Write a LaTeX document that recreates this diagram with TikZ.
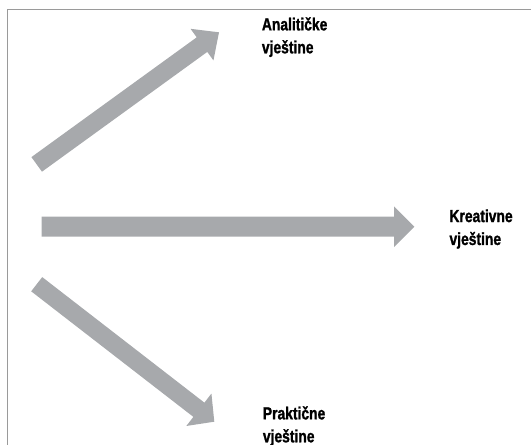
\documentclass[tikz,border=0pt]{standalone}
\usepackage{fontspec}
\newfontfamily\lblfont{Liberation Sans Bold}[FakeStretch=0.79, FakeBold=1.2]
\usetikzlibrary{calc}
\definecolor{arrowgray}{HTML}{A7A9AC}
\definecolor{framegray}{HTML}{9A9A9A}
\tikzset{
  lbl/.style={anchor=base west, inner sep=0pt, align=left, font=\lblfont\fontsize{17.6}{23}\selectfont},
  framel/.style={draw=framegray, line width=1.5bp},
  blockfill/.style={fill=arrowgray}
}
% tail, tip, half shaft, half head, head length, name
\newcommand\blkarrow[6]{%
  \coordinate (#6b) at ($(#2)!#5!(#1)$);
  \fill[blockfill] ($(#1)!#3!90:(#2)$) -- ($(#6b)!#3!90:(#2)$) -- ($(#6b)!#4!90:(#2)$) -- (#2)
    -- ($(#6b)!#4!-90:(#2)$) -- ($(#6b)!#3!-90:(#2)$) -- ($(#1)!#3!-90:(#2)$) -- cycle;
}
\begin{document}
\begin{tikzpicture}[x=1bp,y=-1bp]
\useasboundingbox (0,0) rectangle (531,445);
\draw[framel] (531,9.3) -- (7.3,9.3) -- (7.3,445);
% labels (anchor = baseline of second line)
\node[lbl] (an) at (261.7,53.3) {Analitičke\\vještine};
\node[lbl] (kr) at (449.3,245) {Kreativne\\vještine};
\node[lbl] (pr) at (262.7,442.3) {Praktične\\vještine};
% arrow ends
\coordinate (t1) at (36.7,164.4);
\coordinate (p1) at (219,32.3);
\coordinate (t2) at (41.7,226.7);
\coordinate (p2) at (414.3,226.7);
\coordinate (t3) at (36.7,284.2);
\coordinate (p3) at (214.3,421.7);
\blkarrow{t1}{p1}{9bp}{19.5bp}{21bp}{a1}
\blkarrow{t2}{p2}{10bp}{20.3bp}{20.3bp}{a2}
\blkarrow{t3}{p3}{9bp}{20.5bp}{19.5bp}{a3}
\end{tikzpicture}
\end{document}
